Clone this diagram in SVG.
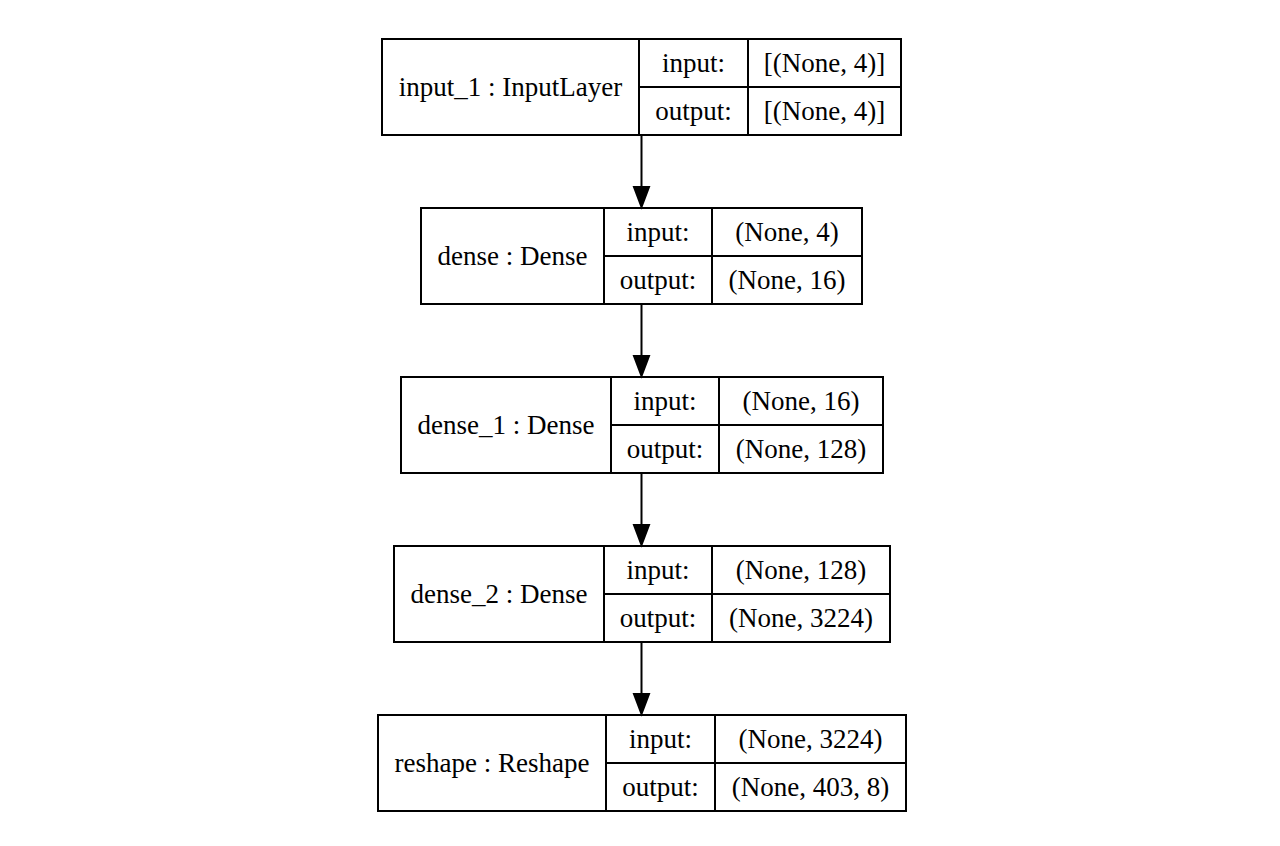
<svg xmlns="http://www.w3.org/2000/svg" width="1280" height="846" viewBox="0 0 1280 846">
<style>
.box{fill:none;stroke:#000;stroke-width:2}
.t{font-family:"Liberation Serif","Times New Roman",serif;font-size:27px;fill:#000;text-anchor:middle}
.edge{stroke:#000;stroke-width:2;fill:none}
.head{fill:#000;stroke:#000;stroke-width:2}
</style>
<rect width="1280" height="846" fill="#fff"/>
<g id="connectors">
<line class="edge" x1="641.5" y1="136" x2="641.5" y2="187"/>
<polygon class="head" points="634,187 649,187 641.5,207"/>
<line class="edge" x1="641.5" y1="305" x2="641.5" y2="356"/>
<polygon class="head" points="634,356 649,356 641.5,376"/>
<line class="edge" x1="641.5" y1="474" x2="641.5" y2="525"/>
<polygon class="head" points="634,525 649,525 641.5,545"/>
<line class="edge" x1="641.5" y1="643" x2="641.5" y2="694"/>
<polygon class="head" points="634,694 649,694 641.5,714"/>
</g>
<g id="input_1">
<rect class="box" x="382" y="39" width="519" height="96"/>
<line class="box" x1="639" y1="39" x2="639" y2="135"/>
<line class="box" x1="748" y1="39" x2="748" y2="135"/>
<line class="box" x1="639" y1="87" x2="901" y2="87"/>
<text class="t" x="510.5" y="96">input_1 : InputLayer</text>
<text class="t" x="693.5" y="72">input:</text>
<text class="t" x="693.5" y="120">output:</text>
<text class="t" x="824.5" y="72">[(None, 4)]</text>
<text class="t" x="824.5" y="120">[(None, 4)]</text>
</g>
<g id="dense">
<rect class="box" x="421" y="208" width="441" height="96"/>
<line class="box" x1="604" y1="208" x2="604" y2="304"/>
<line class="box" x1="712" y1="208" x2="712" y2="304"/>
<line class="box" x1="604" y1="256" x2="862" y2="256"/>
<text class="t" x="512.5" y="265">dense : Dense</text>
<text class="t" x="658" y="241">input:</text>
<text class="t" x="658" y="289">output:</text>
<text class="t" x="787" y="241">(None, 4)</text>
<text class="t" x="787" y="289">(None, 16)</text>
</g>
<g id="dense_1">
<rect class="box" x="401" y="377" width="482" height="96"/>
<line class="box" x1="611" y1="377" x2="611" y2="473"/>
<line class="box" x1="719" y1="377" x2="719" y2="473"/>
<line class="box" x1="611" y1="425" x2="883" y2="425"/>
<text class="t" x="506" y="434">dense_1 : Dense</text>
<text class="t" x="665" y="410">input:</text>
<text class="t" x="665" y="458">output:</text>
<text class="t" x="801" y="410">(None, 16)</text>
<text class="t" x="801" y="458">(None, 128)</text>
</g>
<g id="dense_2">
<rect class="box" x="394" y="546" width="496" height="96"/>
<line class="box" x1="604" y1="546" x2="604" y2="642"/>
<line class="box" x1="712" y1="546" x2="712" y2="642"/>
<line class="box" x1="604" y1="594" x2="890" y2="594"/>
<text class="t" x="499" y="603">dense_2 : Dense</text>
<text class="t" x="658" y="579">input:</text>
<text class="t" x="658" y="627">output:</text>
<text class="t" x="801" y="579">(None, 128)</text>
<text class="t" x="801" y="627">(None, 3224)</text>
</g>
<g id="reshape">
<rect class="box" x="378" y="715" width="528" height="96"/>
<line class="box" x1="606" y1="715" x2="606" y2="811"/>
<line class="box" x1="715" y1="715" x2="715" y2="811"/>
<line class="box" x1="606" y1="763" x2="906" y2="763"/>
<text class="t" x="492" y="772">reshape : Reshape</text>
<text class="t" x="660.5" y="748">input:</text>
<text class="t" x="660.5" y="796">output:</text>
<text class="t" x="810.5" y="748">(None, 3224)</text>
<text class="t" x="810.5" y="796">(None, 403, 8)</text>
</g>
</svg>
